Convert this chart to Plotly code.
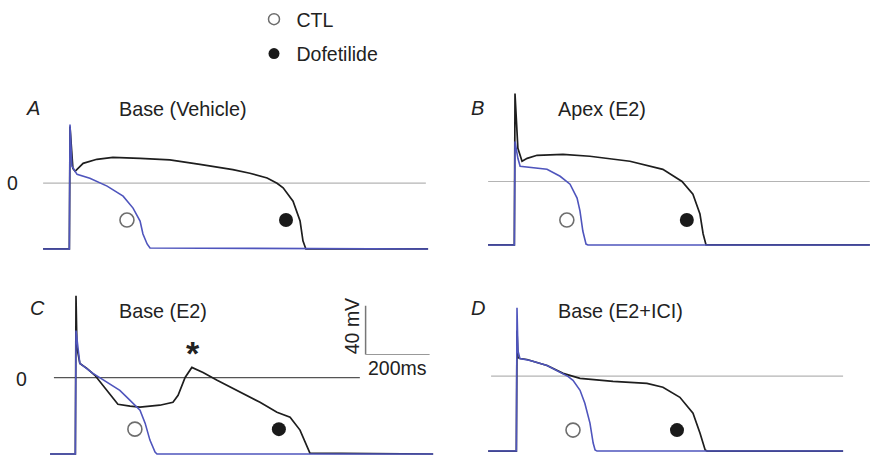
import plotly.graph_objects as go

W, H = 870, 459
KX = 0.32    # px per ms
KY = 1.225   # px per mV

# ---------------- data (time in ms, membrane potential in mV) ----------------
A_t_dof = [-84, -2, 0, 9, 16, 41, 84, 134, 219, 312, 406, 509, 562, 616, 647, 666, 697, 719, 728, 737, 1119]
A_v_dof = [-53.9, -53.9, 46.5, 12.2, 9.8, 16.3, 19.6, 21.2, 20.4, 19.2, 15.5, 11.2, 8.2, 4.3, 0, -3.8, -14.7, -31, -47.3, -53.9, -53.9]
A_t_ctl = [-84, -2, 0, 6, 22, 62, 116, 166, 197, 219, 228, 241, 250, 1119]
A_v_ctl = [-53.9, -53.9, 48.2, 13.9, 7.3, 4.1, -2.4, -10.6, -20.4, -31, -41.6, -49.8, -53.1, -53.9]

B_t_dof = [-84, -2, 0, 9, 22, 38, 69, 150, 234, 359, 462, 522, 556, 578, 588, 597, 1109]
B_v_dof = [-52, -52, 72.1, 27.2, 16.6, 19.0, 21.5, 22.3, 20.7, 16.6, 10.0, 0, -10.4, -26.7, -43, -52, -52]
B_t_ctl = [-84, -2, 0, 9, 16, 47, 100, 141, 172, 194, 203, 212, 222, 228, 1109]
B_v_ctl = [-52, -52, 32.9, 19.0, 12.5, 11.7, 10.0, 4.3, -2.2, -13.6, -24.1, -40.6, -51.3, -52, -52]

C_t_dof = [-81, -2, 0, 3, 12, 34, 59, 84, 112, 131, 169, 200, 262, 303, 319, 341, 362, 397, 441, 512, 575, 628, 669, 700, 731, 1116]
C_v_dof = [-62.6, -62.6, 67.2, 24.7, 11.7, 7.6, 1.9, -6.3, -16.1, -21.8, -23.4, -24.2, -22.6, -20.2, -14.5, 0.2, 8.4, 4.3, -2.2, -12, -20.2, -28.3, -32.4, -43, -61.8, -62.6]
C_t_ctl = [-81, -2, 0, 6, 12, 53, 97, 137, 169, 200, 216, 231, 247, 253, 1116]
C_v_ctl = [-62.6, -62.6, 38.6, 22.3, 11.7, 3.5, -3.8, -10.4, -18.6, -26.7, -37.3, -51.2, -61, -62.6, -62.6]

D_t_dof = [-90, -2, 0, 3, 9, 31, 94, 144, 197, 269, 300, 406, 456, 509, 550, 572, 588, 594, 1019]
D_v_dof = [-61.5, -61.5, 37.3, 15.3, 14.4, 13.6, 8.7, 2.2, -1.9, -3.5, -4.3, -6, -9.2, -17.4, -30.4, -46.8, -60.6, -61.5, -61.5]
D_t_ctl = [-90, -2, 0, 3, 9, 41, 94, 134, 159, 175, 197, 212, 228, 238, 244, 250, 1019]
D_v_ctl = [-61.5, -61.5, 56.1, 20.9, 14.4, 12.8, 8.7, 3.0, -0.2, -3.5, -11.7, -22.3, -38.6, -54.9, -60.6, -61.5, -61.5]

# circle markers (CTL open, Dofetilide filled) per panel: (t, V)
CTL_MARK = {"A": (178, -30.2), "B": (162, -31.6), "C": (184, -42.2), "D": (175, -44.3)}
DOF_MARK = {"A": (675, -30.2), "B": (537, -31.6), "C": (634, -42.2), "D": (500, -44.3)}

# zero-potential reference line extents (ms)
ZERO_SPAN = {"A": (-84, 1112), "B": (-84, 1109), "C": (-69, 887), "D": (-81, 1019)}

PANEL_TITLES = {"A": "Base (Vehicle)", "B": "Apex (E2)", "C": "Base (E2)", "D": "Base (E2+ICI)"}
LEGEND_NAMES = ["CTL", "Dofetilide"]

SCALE_MV = 40
SCALE_MS = 200
SCALE_T0 = 905
SCALE_V0 = 19
ASTERISK_T = 366

# ---------------- layout geometry ----------------
PANELS = {
    "A": dict(ox=70, oy=182.0, tr=(-90, 1125), vr=(-60, 60), ax="1"),
    "B": dict(ox=515, oy=180.3, tr=(-90, 1109), vr=(-60, 75), ax="2"),
    "C": dict(ox=76, oy=377.3, tr=(-90, 1125), vr=(-65, 70), ax="3"),
    "D": dict(ox=517, oy=375.7, tr=(-95, 1030), vr=(-65, 60), ax="4"),
}

BLACK = "#1e1e1e"
BLUE = "#4f55bd"
TXT = "#222222"
FONT = "Liberation Sans, Arial, sans-serif"

data_map = {
    "A": (A_t_dof, A_v_dof, A_t_ctl, A_v_ctl),
    "B": (B_t_dof, B_v_dof, B_t_ctl, B_v_ctl),
    "C": (C_t_dof, C_v_dof, C_t_ctl, C_v_ctl),
    "D": (D_t_dof, D_v_dof, D_t_ctl, D_v_ctl),
}

def px(x):
    return x / W

def py(y):
    return 1 - y / H

fig = go.Figure()
layout = dict(
    width=W, height=H, margin=dict(l=0, r=0, t=0, b=0),
    paper_bgcolor="white", plot_bgcolor="rgba(0,0,0,0)",
    font=dict(family=FONT, color=TXT, size=19),
    showlegend=True,
)
shapes = []
annotations = []

for key, p in PANELS.items():
    a = p["ax"]
    xa = "x" if a == "1" else "x" + a
    ya = "y" if a == "1" else "y" + a
    xname = "xaxis" if a == "1" else "xaxis" + a
    yname = "yaxis" if a == "1" else "yaxis" + a
    x0 = p["ox"] + p["tr"][0] * KX
    x1 = p["ox"] + p["tr"][1] * KX
    ytop = p["oy"] - p["vr"][1] * KY
    ybot = p["oy"] - p["vr"][0] * KY
    layout[xname] = dict(domain=[px(x0), px(x1)], range=list(p["tr"]), visible=False, anchor=ya)
    layout[yname] = dict(domain=[py(ybot), py(ytop)], range=list(p["vr"]), visible=False, anchor=xa)

    td, vd, tc, vc = data_map[key]
    zs = ZERO_SPAN[key]
    shapes.append(dict(type="line", xref=xa, yref=ya, x0=zs[0], x1=zs[1], y0=0, y1=0,
                       line=dict(color="#555555" if key == "C" else "#b4b4b4", width=1.2), layer="below"))
    fig.add_trace(go.Scatter(x=td, y=vd, mode="lines", line=dict(color=BLACK, width=1.7),
                             xaxis=xa, yaxis=ya, showlegend=False, hoverinfo="skip"))
    fig.add_trace(go.Scatter(x=tc, y=vc, mode="lines", line=dict(color=BLUE, width=1.6),
                             xaxis=xa, yaxis=ya, showlegend=False, hoverinfo="skip"))
    ct, cv = CTL_MARK[key]
    dt, dv = DOF_MARK[key]
    fig.add_trace(go.Scatter(x=[ct], y=[cv], mode="markers",
                             marker=dict(symbol="circle", size=14, color="white",
                                         line=dict(color="#6e6e6e", width=1.6)),
                             xaxis=xa, yaxis=ya, showlegend=False, hoverinfo="skip"))
    fig.add_trace(go.Scatter(x=[dt], y=[dv], mode="markers",
                             marker=dict(symbol="circle", size=14, color="#1a1a1a"),
                             xaxis=xa, yaxis=ya, showlegend=False, hoverinfo="skip"))

# legend-only traces
fig.add_trace(go.Scatter(x=[None], y=[None], mode="markers", name=LEGEND_NAMES[0], legendgroup="g1",
                         marker=dict(symbol="circle", size=11, color="white",
                                     line=dict(color="#6e6e6e", width=1.5))))
fig.add_trace(go.Scatter(x=[None], y=[None], mode="markers", name=LEGEND_NAMES[1], legendgroup="g2",
                         marker=dict(symbol="circle", size=11, color="#1a1a1a")))
layout["legend"] = dict(x=px(251.5), y=py(-2), xanchor="left", yanchor="top",
                        bgcolor="rgba(0,0,0,0)", borderwidth=0, tracegroupgap=6, itemwidth=35,
                        font=dict(size=19.5, color=TXT, family=FONT))

# panel letters and titles
LETTER_POS = {"A": (33, 106), "B": (477, 106), "C": (37, 307), "D": (478, 307)}
TITLE_POS = {"A": (117, 107), "B": (556, 107), "C": (117, 310), "D": (556, 310)}
for key in PANELS:
    lx, ly = LETTER_POS[key]
    annotations.append(dict(text="<i>%s</i>" % key, x=px(lx), y=py(ly), xref="paper", yref="paper",
                            showarrow=False, xanchor="center", yanchor="middle",
                            font=dict(size=20, color=TXT, family=FONT)))
    tx, ty = TITLE_POS[key]
    annotations.append(dict(text=PANEL_TITLES[key], x=px(tx), y=py(ty), xref="paper", yref="paper",
                            showarrow=False, xanchor="left", yanchor="middle",
                            font=dict(size=19.8, color=TXT, family=FONT)))

# zero labels
for (lx, ly) in [(12, 182), (21, 379)]:
    annotations.append(dict(text="0", x=px(lx), y=py(ly), xref="paper", yref="paper",
                            showarrow=False, xanchor="center", yanchor="middle",
                            font=dict(size=19.5, color=TXT, family=FONT)))

# scale bar in panel C
shapes.append(dict(type="line", xref="x3", yref="y3", x0=SCALE_T0, x1=SCALE_T0,
                   y0=SCALE_V0, y1=SCALE_V0 + SCALE_MV, line=dict(color="#777777", width=1.5)))
shapes.append(dict(type="line", xref="x3", yref="y3", x0=SCALE_T0, x1=SCALE_T0 + SCALE_MS,
                   y0=SCALE_V0, y1=SCALE_V0, line=dict(color="#999999", width=1.2)))
annotations.append(dict(text="%d mV" % SCALE_MV, x=SCALE_T0 - 40, y=SCALE_V0 + SCALE_MV / 2 + 3,
                        xref="x3", yref="y3", showarrow=False, textangle=-90,
                        xanchor="center", yanchor="middle", font=dict(size=19.5, color=TXT, family=FONT)))
annotations.append(dict(text="%dms" % SCALE_MS, x=SCALE_T0 + SCALE_MS / 2, y=SCALE_V0 - 11,
                        xref="x3", yref="y3", showarrow=False,
                        xanchor="center", yanchor="middle", font=dict(size=19.5, color=TXT, family=FONT)))
# asterisk over the early after-depolarisation
annotations.append(dict(text="<b>*</b>", x=ASTERISK_T, y=20.5, xref="x3", yref="y3", showarrow=False,
                        xanchor="center", yanchor="middle", font=dict(size=34, color=TXT, family=FONT)))

layout["shapes"] = shapes
layout["annotations"] = annotations
fig.update_layout(**layout)
fig.write_html("out.html", config={"displayModeBar": False},
               post_script="document.body.style.margin='0';document.body.style.overflow='hidden';")
